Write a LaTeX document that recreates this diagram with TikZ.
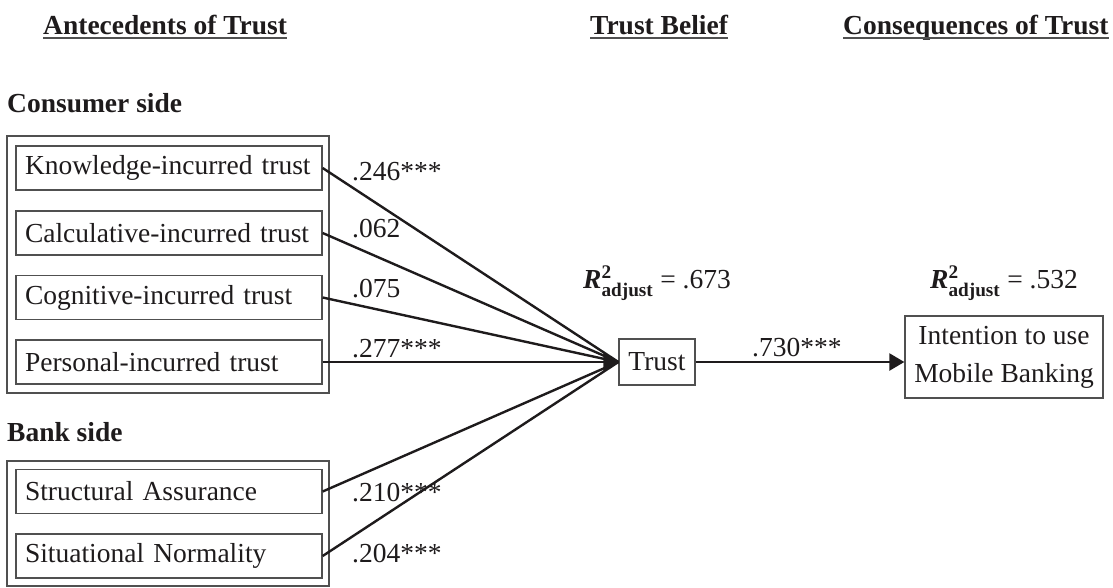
\documentclass[tikz,border=0pt]{standalone}
\usepackage{fontspec}
\setmainfont{Liberation Serif}
\usepackage{amsmath}
\usetikzlibrary{arrows.meta}
\definecolor{ink}{RGB}{30,27,28}
\definecolor{frame}{RGB}{80,80,80}
\newcommand{\bigfont}{\fontsize{27.5}{38}\selectfont}
\begin{document}
\begin{tikzpicture}[x=1pt,y=-1pt,
  every node/.style={text=ink},
  head/.style={font=\bigfont\bfseries, inner sep=0pt, anchor=base west},
  outerbox/.style={draw=frame, line width=1.3pt},
  itembox/.style={draw=frame, line width=1.3pt, font=\bigfont, minimum width=306pt, minimum height=44pt,
    text width=288pt, align=left, inner xsep=9pt, inner ysep=0pt},
  centerbox/.style={draw=frame, line width=1.3pt, font=\bigfont, inner ysep=0pt, inner xsep=0pt, align=center},
  coef/.style={font=\bigfont, inner sep=0pt, anchor=base west},
  conn/.style={draw=ink, line width=2.4pt},
  arr/.style={conn, -{Triangle[length=15pt,width=17pt]}},
  ul/.style={draw=frame, line width=1.5pt}
]
\useasboundingbox (0,0) rectangle (1113,587);

% headers
\node[head] (h1) at (43,34) {Antecedents of Trust};
\node[head] (h2) at (590,34) {Trust Belief};
\node[head] (h3) at (843,34) {Consequences of Trust};
\draw[ul] ([yshift=-4pt]h1.base west) -- ([yshift=-4pt]h1.base east);
\draw[ul] ([yshift=-4pt]h2.base west) -- ([yshift=-4pt]h2.base east);
\draw[ul] ([yshift=-4pt]h3.base west) -- ([yshift=-4pt]h3.base east);

% consumer side
\node[head] (cs) at (7,112) {Consumer side};
\draw[outerbox] (7,136) rectangle (329,393);
\node[itembox] (k) at (169,168) {Knowledge-incurred trust};
\node[itembox] (c) at (169,233) {Calculative-incurred trust};
\node[itembox] (g) at (169,297.5) {Cognitive-incurred trust};
\node[itembox] (p) at (169,362) {Personal-incurred trust};

% bank side
\node[head] (bs) at (7,441) {Bank side};
\draw[outerbox] (7,461) rectangle (329,586);
\node[itembox] (s) at (169,491.5) {Structural Assurance};
\node[itembox] (n) at (169,556) {Situational Normality};

% trust and intention
\node[centerbox, minimum width=76pt, minimum height=46pt] (t) at (657,362) {Trust};
\node[centerbox, minimum width=198pt, minimum height=82pt] (i) at (1004,357) {Intention to use\\Mobile Banking};

% connectors
\draw[conn] (k.east) -- (t.west);
\draw[conn] (c.east) -- (t.west);
\draw[conn] (g.east) -- (t.west);
\draw[conn] (s.east) -- (t.west);
\draw[conn] (n.east) -- (t.west);
\draw[arr] (p.east) -- (t.west);
\draw[arr] (t.east) -- (t.east -| i.west);

% coefficients
\node[coef] (l1) at (352,180) {.246***};
\node[coef] (l2) at (352,237) {.062};
\node[coef] (l3) at (352,297) {.075};
\node[coef] (l4) at (352,357) {.277***};
\node[coef] (l5) at (352,501) {.210***};
\node[coef] (l6) at (352,562) {.204***};
\node[coef] (l7) at (752,356) {.730***};

% R squared
\node[coef] (r1) at (583,288) {\textbf{\textit{R}}$^{\text{\bfseries 2}}_{\text{\bfseries adjust}}$ = .673};
\node[coef] (r2) at (930,288) {\textbf{\textit{R}}$^{\text{\bfseries 2}}_{\text{\bfseries adjust}}$ = .532};
\end{tikzpicture}
\end{document}
